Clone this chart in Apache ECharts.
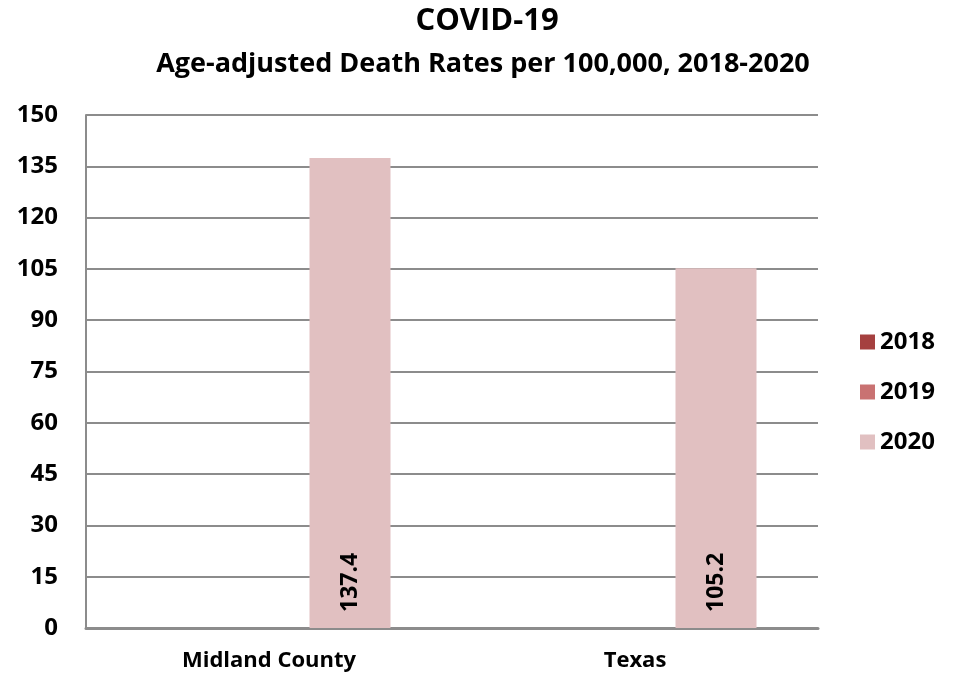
<!DOCTYPE html>
<html>
<head>
<meta charset="utf-8">
<script src="https://cdn.jsdelivr.net/npm/echarts@6/dist/echarts.min.js"></script>
<style>
  html, body { margin: 0; padding: 0; background: #fff; }
  #chart { width: 954px; height: 676px; }
</style>
</head>
<body>
<div id="chart"></div>
<script>
const categories = ['Midland County', 'Texas'];
const years = ['2018', '2019', '2020'];
const values2018 = [null, null];
const values2019 = [null, null];
const values2020 = [137.4, 105.2];
const yTicks = { min: 0, max: 150, interval: 15 };

const colors = ['#A5403F', '#C97272', '#E1C0C1'];
const fontFam = '"Open Sans", sans-serif';

document.addEventListener('DOMContentLoaded', () => {
    var chart = echarts.init(document.getElementById('chart'));

    const seriesData = [values2018, values2019, values2020];

    const option = {
        animation: false,
        color: colors,
        title: [{
            text: 'COVID-19',
            left: 482,
            textAlign: 'center',
            top: 1,
            textStyle: { fontFamily: fontFam, fontWeight: 'bold', fontSize: 31, color: '#000' }
        }, {
            text: 'Age-adjusted Death Rates per 100,000, 2018-2020',
            left: 478,
            textAlign: 'center',
            top: 46,
            textStyle: { fontFamily: fontFam, fontWeight: 'bold', fontSize: 27, color: '#000' }
        }],
        legend: {
            orient: 'vertical',
            left: 855,
            top: 325,
            itemWidth: 15,
            itemHeight: 15,
            itemGap: 26,
            icon: 'rect',
            data: years,
            textStyle: { fontFamily: fontFam, fontWeight: 'bold', fontSize: 24, color: '#000' }
        },
        grid: {
            left: 86,
            right: 136,
            top: 115,
            bottom: 48
        },
        xAxis: {
            type: 'category',
            data: categories,
            axisTick: { show: false },
            axisLine: { lineStyle: { color: '#8c8c8c', width: 3 } },
            axisLabel: {
                margin: 22,
                fontFamily: fontFam, fontWeight: 'bold', fontSize: 22, color: '#000'
            }
        },
        yAxis: {
            type: 'value',
            min: yTicks.min,
            max: yTicks.max,
            interval: yTicks.interval,
            axisLine: { show: true, lineStyle: { color: '#8c8c8c', width: 2 } },
            axisTick: { show: false },
            splitLine: { lineStyle: { color: '#8c8c8c', width: 2 } },
            axisLabel: {
                margin: 28,
                fontFamily: fontFam, fontWeight: 'bold', fontSize: 24, color: '#000'
            }
        },
        series: years.map((y, i) => ({
            name: y,
            type: 'bar',
            data: seriesData[i],
            barWidth: 81,
            barGap: '0%',
            label: {
                show: true,
                position: 'insideBottom',
                rotate: 90,
                align: 'left',
                verticalAlign: 'middle',
                distance: 16,
                fontFamily: fontFam, fontWeight: 'bold', fontSize: 23, color: '#000',
                formatter: p => p.value == null ? '' : p.value.toFixed(1)
            }
        }))
    };

    chart.setOption(option);
    window.addEventListener('resize', () => chart.resize());
});
</script>
</body>
</html>
